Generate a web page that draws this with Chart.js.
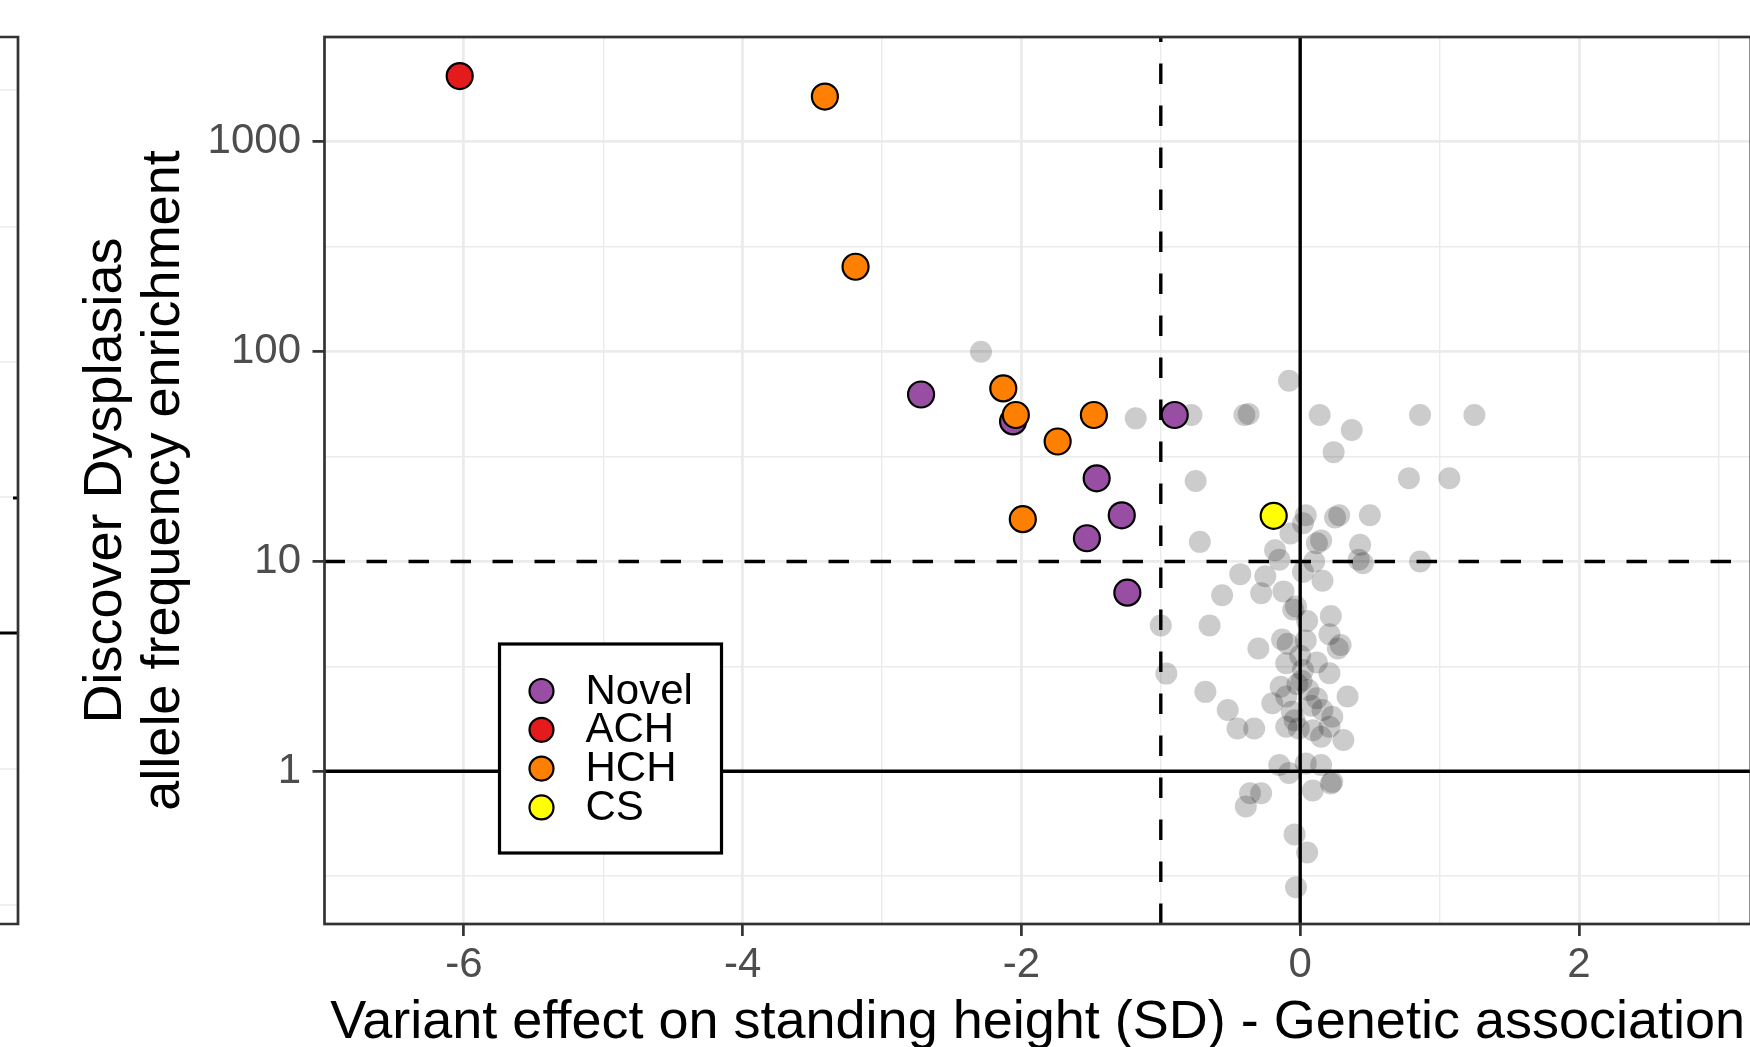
<!DOCTYPE html>
<html>
<head>
<meta charset="utf-8">
<title>Height effect vs enrichment</title>
<script src="https://cdn.jsdelivr.net/npm/chart.js@4.4.1/dist/chart.umd.min.js"></script>
<style>
  html, body { margin: 0; padding: 0; background: #fff; overflow: hidden; width: 1750px; height: 1047px; }
  #wrap { position: relative; width: 1766px; height: 1060px; }
  canvas { display: block; }
</style>
</head>
<body>
<div id="wrap"><canvas id="myChart" width="1766" height="1060"></canvas></div>
<script>
// categories and their colours
const categories = ['Novel', 'ACH', 'HCH', 'CS'];
const categoryColors = ['#984EA3', '#E41A1C', '#FF7F00', '#FFFF00'];

// highlighted variants (x = effect in SD, y = enrichment)
const novelX = [-2.72, -2.06, -0.90, -1.46, -1.28, -1.53, -1.24];
const novelY = [62.5, 46.5, 49.9, 24.9, 16.6, 12.9, 7.1];
const achX = [-6.03];
const achY = [2060];
const hchX = [-3.41, -3.19, -2.13, -2.04, -1.74, -1.48, -1.99];
const hchY = [1645, 254, 66.8, 49.9, 37.3, 49.9, 15.9];
const csX = [-0.19];
const csY = [16.5];

// all other variants (grey)
const otherX = [-2.29, -1.18, -0.78, -0.40, -0.37, -0.08, 0.14, 0.37, 0.24, -0.75, 0.78, 1.07, 0.86, 1.25,
  0.04, 0.25, 0.28, 0.50, 0.02, -0.07, 0.15, 0.12, 0.43, -0.18, -0.15, 0.10, 0.42, 0.45, 0.86, -0.72,
  -0.43, -0.25, 0.16, 0.02, -0.28, -0.12, -0.56, -0.03, -0.05, 0.05, 0.22, 0.21, 0.27, 0.29, -0.30,
  -0.13, -0.09, 0.04, -1.00, -0.65, -0.10, 0.02, 0.21, -0.96, -0.68, -0.52, -0.45, -0.33, -0.14, -0.20,
  -0.10, -0.02, 0.01, 0.06, 0.12, 0.16, 0.23, 0.34, -0.06, -0.10, -0.01, 0.09, 0.15, 0.21, 0.31,
  -0.15, -0.08, 0.04, 0.15, 0.23, 0.09, 0.22, -0.36, -0.28, -0.39, -0.04, 0.05, -0.03,
  0.00, 0.08, -0.04, 0.12];
const otherY = [100, 48.1, 49.9, 49.9, 50.5, 72.7, 49.9, 42.3, 33.2, 24.2, 24.9, 24.9, 49.9, 49.9,
  16.6, 16.2, 16.6, 16.6, 15.2, 13.6, 12.6, 12.2, 12.0, 11.3, 10.2, 10.0, 10.2, 9.8, 10.0, 12.4,
  8.7, 8.5, 8.1, 8.9, 7.05, 7.2, 6.9, 6.1, 5.9, 5.2, 5.5, 4.5, 3.85, 4.0, 3.85,
  4.25, 4.05, 4.2, 4.95, 4.95, 3.27, 3.04, 2.93, 2.92, 2.39, 1.96, 1.6, 1.6, 2.53, 2.11,
  2.27, 2.6, 2.7, 2.44, 2.23, 1.96, 1.82, 2.27, 1.92, 1.63, 1.6, 1.57, 1.46, 1.63, 1.41,
  1.07, 0.98, 1.09, 1.07, 0.89, 0.81, 0.875, 0.785, 0.785, 0.68, 0.50, 0.41, 0.28,
  3.55, 2.05, 1.75, 3.3];

// axes
const xTicks = [-6, -4, -2, 0, 2];
const xMinorTicks = [-5, -3, -1, 1, 3];
const xLimits = [-7, 3.233];
const yTicks = [1, 10, 100, 1000];
const yMinorTicks = [0.3162, 3.162, 31.62, 316.2];
const yLimits = [0.187, 3162];

// reference lines
const refXSolid = 0, refXDashed = -1;
const refYSolid = 1, refYDashed = 10;

const FONT = "'Liberation Sans', Arial, sans-serif";

function toPoints(xs, ys) {
    return xs.map((x, i) => ({ x: x, y: ys[i] }));
}

function makeTicks(major, minor) {
    return major.map(v => ({ value: v, major: true }))
        .concat(minor.map(v => ({ value: v, major: false })))
        .sort((a, b) => a.value - b.value);
}

const highlightSeries = [
    [novelX, novelY, 4],
    [achX, achY, 3],
    [hchX, hchY, 2],
    [csX, csY, 1]
];

const datasets = highlightSeries.map((s, i) => ({
    label: categories[i],
    data: toPoints(s[0], s[1]),
    backgroundColor: categoryColors[i],
    borderColor: '#000',
    borderWidth: 2.2,
    pointRadius: 13,
    order: s[2]
}));
datasets.push({
    label: 'Other',
    data: toPoints(otherX, otherY),
    backgroundColor: 'rgba(0,0,0,0.2)',
    borderWidth: 0,
    pointRadius: 11,
    order: 10
});

// reference lines under the points
const refLines = {
    id: 'refLines',
    beforeDatasetsDraw(chart) {
        const { ctx, chartArea: a, scales: { x, y } } = chart;
        ctx.save();
        ctx.beginPath();
        ctx.rect(a.left, a.top, a.right - a.left, a.bottom - a.top);
        ctx.clip();
        ctx.strokeStyle = '#000';
        ctx.lineWidth = 3.4;
        ctx.setLineDash([20.5, 21.5]);
        let px = x.getPixelForValue(refXDashed);
        ctx.beginPath(); ctx.moveTo(px, a.bottom); ctx.lineTo(px, a.top); ctx.stroke();
        let py = y.getPixelForValue(refYDashed);
        ctx.beginPath(); ctx.moveTo(a.left, py); ctx.lineTo(a.right, py); ctx.stroke();
        ctx.setLineDash([]);
        px = x.getPixelForValue(refXSolid);
        ctx.beginPath(); ctx.moveTo(px, a.bottom); ctx.lineTo(px, a.top); ctx.stroke();
        py = y.getPixelForValue(refYSolid);
        ctx.beginPath(); ctx.moveTo(a.left, py); ctx.lineTo(a.right, py); ctx.stroke();
        ctx.restore();
    }
};

// panel border, the cut-off neighbour panel and the legend box
const decorations = {
    id: 'decorations',
    afterDraw(chart) {
        const { ctx, chartArea: a } = chart;
        ctx.save();
        ctx.strokeStyle = '#333';
        ctx.lineWidth = 2.7;
        ctx.strokeRect(a.left, a.top, a.right - a.left, a.bottom - a.top);

        // neighbouring panel, only its right edge is visible
        const fr = 18;
        ctx.strokeStyle = '#EBEBEB';
        ctx.lineWidth = 1.5;
        [90, 227, 362, 497, 769, 905].forEach(yy => {
            ctx.beginPath(); ctx.moveTo(0, yy); ctx.lineTo(fr, yy); ctx.stroke();
        });
        ctx.strokeStyle = '#000';
        ctx.lineWidth = 3;
        ctx.beginPath(); ctx.moveTo(0, 633); ctx.lineTo(fr, 633); ctx.stroke();
        ctx.beginPath(); ctx.moveTo(fr - 5, 498); ctx.lineTo(fr, 498); ctx.stroke();
        ctx.strokeStyle = '#333';
        ctx.lineWidth = 2.7;
        ctx.beginPath();
        ctx.moveTo(-5, a.top); ctx.lineTo(fr, a.top); ctx.lineTo(fr, a.bottom); ctx.lineTo(-5, a.bottom);
        ctx.stroke();

        // legend
        const lx = a.left + 175, ly = a.top + 607, lw = 222, lh = 209;
        ctx.fillStyle = '#fff';
        ctx.fillRect(lx, ly, lw, lh);
        ctx.strokeStyle = '#000';
        ctx.lineWidth = 3.2;
        ctx.strokeRect(lx, ly, lw, lh);
        ctx.font = '42px ' + FONT;
        ctx.textBaseline = 'middle';
        ctx.textAlign = 'left';
        categories.forEach((c, i) => {
            const cy = ly + 47 + i * 38.8;
            ctx.beginPath();
            ctx.arc(lx + 42, cy, 12, 0, Math.PI * 2);
            ctx.fillStyle = categoryColors[i];
            ctx.fill();
            ctx.lineWidth = 2.2;
            ctx.strokeStyle = '#000';
            ctx.stroke();
            ctx.fillStyle = '#000';
            ctx.fillText(c, lx + 86, cy + 1);
        });
        ctx.restore();
    }
};

const gridOpts = {
    color: '#EBEBEB',
    lineWidth: c => (c.tick && c.tick.major ? 2.8 : 1.4),
    tickLength: 12,
    tickColor: c => (c.tick && c.tick.major ? '#333' : 'rgba(0,0,0,0)'),
    tickWidth: 2.7
};

const options = {
    responsive: false,
    animation: false,
    layout: { padding: { left: 77, top: 37, right: 2, bottom: 0 } },
    plugins: {
        legend: { display: false },
        tooltip: { enabled: false }
    },
    scales: {
        x: {
            type: 'linear',
            min: xLimits[0],
            max: xLimits[1],
            afterBuildTicks: s => { s.ticks = makeTicks(xTicks, xMinorTicks); },
            afterFit: s => { s.height = 136; },
            ticks: {
                autoSkip: false,
                maxRotation: 0,
                padding: 4,
                color: '#4D4D4D',
                font: { family: FONT, size: 42 },
                callback: (v, i, t) => (t[i].major ? String(v) : '')
            },
            grid: gridOpts,
            border: { display: false },
            title: {
                display: true,
                text: 'Variant effect on standing height (SD) - Genetic association',
                color: '#000',
                font: { family: FONT, size: 54, lineHeight: 1.2 },
                padding: { top: 0, bottom: 4.5 }
            }
        },
        y: {
            type: 'logarithmic',
            min: yLimits[0],
            max: yLimits[1],
            afterBuildTicks: s => { s.ticks = makeTicks(yTicks, yMinorTicks); },
            afterFit: s => { s.width = 247.5; },
            ticks: {
                autoSkip: false,
                padding: 11.5,
                color: '#4D4D4D',
                font: { family: FONT, size: 42 },
                callback: (v, i, t) => (t[i].major ? String(v) : '')
            },
            grid: gridOpts,
            border: { display: false },
            title: {
                display: true,
                text: ['Discover Dysplasias', 'allele frequency enrichment'],
                color: '#000',
                font: { family: FONT, size: 54, lineHeight: 1.08 },
                padding: { top: 0, bottom: 0 }
            }
        }
    }
};

const ctx = document.getElementById('myChart').getContext('2d');
new Chart(ctx, {
    type: 'scatter',
    data: { datasets: datasets },
    options: options,
    plugins: [refLines, decorations]
});
</script>
</body>
</html>
